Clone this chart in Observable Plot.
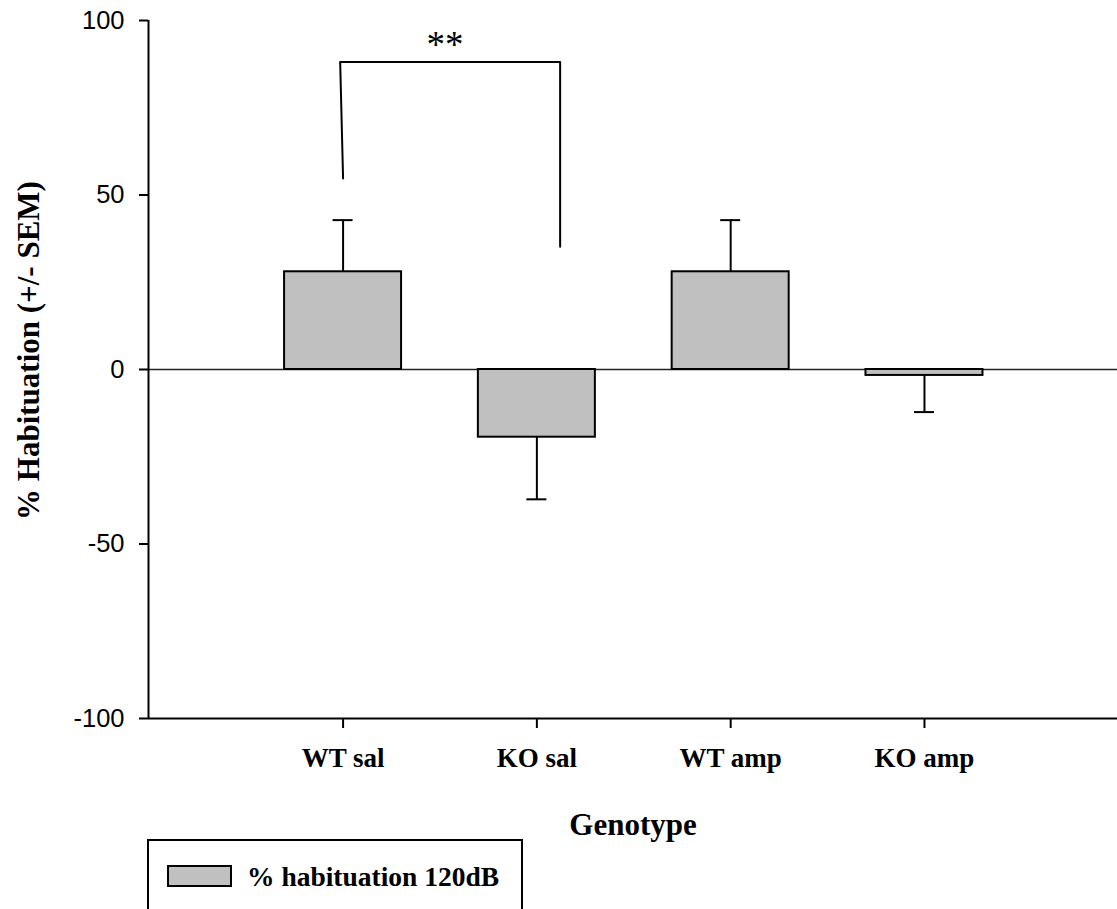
<!DOCTYPE html>
<html>
<head>
<meta charset="utf-8">
<script src="https://cdn.jsdelivr.net/npm/d3@7"></script>
<script src="https://cdn.jsdelivr.net/npm/@observablehq/plot@0.6"></script>
<style>
  body { margin: 0; background: #fff; }
  #wrap { position: relative; width: 1117px; height: 909px; overflow: hidden; background: #fff; }
  #wrap svg { display: block; }
  g[aria-label="x-axis tick label"] { font: bold 27px "Liberation Serif", "Times New Roman", serif; fill: #000; }
  g[aria-label="y-axis tick label"] { font: 25.5px "Liberation Sans", Arial, sans-serif; fill: #000; }
  .legend { position: absolute; left: 147px; top: 839px; width: 376px; height: 110px;
            border: 2px solid #000; box-sizing: border-box; background: #fff; }
  .swatch { position: absolute; left: 167px; top: 865px; width: 65px; height: 22px;
            border: 2px solid #000; box-sizing: border-box; background: #c0c0c0; }
  .ltext { position: absolute; left: 247px; top: 861px; line-height: 28px;
           font: bold 27.5px "Liberation Serif", "Times New Roman", serif; color: #000; white-space: nowrap; }
</style>
</head>
<body>
<div id="wrap"></div>
<script>
// ---- data ----
const categories = ["WT sal", "KO sal", "WT amp", "KO amp"];
const means = [28, -19.4, 28, -1.7];
const sems = [14.8, 17.8, 14.8, 10.5];
const yTicks = [-100, -50, 0, 50, 100];
const bracketX = [0, -0.015, 1.12, 1.12];
const bracketY = [54.7, 88.1, 88.1, 35.2];
const starLabel = ["**"];
const starX = [0.526];
const starY = [89.6];
const yTitle = "% Habituation (+/- SEM)";
const xTitle = "Genotype";
const legendLabel = "% habituation 120dB";

// ---- tables built from arrays ----
const rows = categories.map((c, i) => ({cat: c, i, mean: means[i], sem: sems[i]}));
const bracket = bracketX.map((x, k) => ({x, y: bracketY[k]}));
const stars = starLabel.map((t, k) => ({t, x: starX[k], y: starY[k]}));
const errEnd = d => d.mean + Math.sign(d.mean) * d.sem;

const serif = '"Liberation Serif", "Times New Roman", serif';

const chart = Plot.plot({
  width: 1117,
  height: 850,
  marginLeft: 148,
  marginRight: 0,
  marginTop: 20,
  marginBottom: 132,
  style: {background: "transparent", fontFamily: '"Liberation Sans", Arial, sans-serif', color: "#000"},
  x: {type: "linear", domain: [-1.004, 3.996]},
  y: {domain: [-100, 100]},
  marks: [
    Plot.ruleY([0], {stroke: "#222", strokeWidth: 1.5}),
    Plot.rectY(rows, {x1: "i", x2: "i", y: "mean", insetLeft: -58.5, insetRight: -58.5,
                      fill: "#c0c0c0", stroke: "#000", strokeWidth: 2}),
    Plot.ruleX(rows, {x: "i", y1: "mean", y2: errEnd, stroke: "#000", strokeWidth: 2}),
    Plot.ruleY(rows, {y: errEnd, x1: "i", x2: "i", insetLeft: -10, insetRight: -10, stroke: "#000", strokeWidth: 2}),
    Plot.line(bracket, {x: "x", y: "y", stroke: "#000", strokeWidth: 2}),
    Plot.text(stars, {x: "x", y: "y", text: "t", lineAnchor: "bottom", fontSize: 37, fontFamily: serif, fill: "#000"}),
    Plot.ruleY([-100], {stroke: "#000", strokeWidth: 2}),
    Plot.ruleX([-1.004], {stroke: "#000", strokeWidth: 2}),
    Plot.axisY({ticks: yTicks, tickFormat: d => String(d), tickSize: 9, tickPadding: 15, label: null, strokeWidth: 2, fontSize: 25.5}),
    Plot.axisX({ticks: [0, 1, 2, 3], tickFormat: i => categories[i], tickSize: 10, tickPadding: 19,
                label: null, strokeWidth: 2, fontSize: 27, fontWeight: "bold", fontFamily: serif}),
    Plot.text([yTitle], {frameAnchor: "left", textAnchor: "middle", rotate: -90, dx: -119, dy: -19, fontSize: 31,
                         fontWeight: "bold", fontFamily: serif, fill: "#000"}),
    Plot.text([xTitle], {frameAnchor: "bottom", textAnchor: "middle", lineAnchor: "bottom", dy: 116, fontSize: 31,
                         fontWeight: "bold", fontFamily: serif, fill: "#000"})
  ]
});

const wrap = document.getElementById("wrap");
wrap.appendChild(chart);
const lg = document.createElement("div"); lg.className = "legend"; wrap.appendChild(lg);
const sw = document.createElement("div"); sw.className = "swatch"; wrap.appendChild(sw);
const lt = document.createElement("div"); lt.className = "ltext"; lt.textContent = legendLabel; wrap.appendChild(lt);
</script>
</body>
</html>
